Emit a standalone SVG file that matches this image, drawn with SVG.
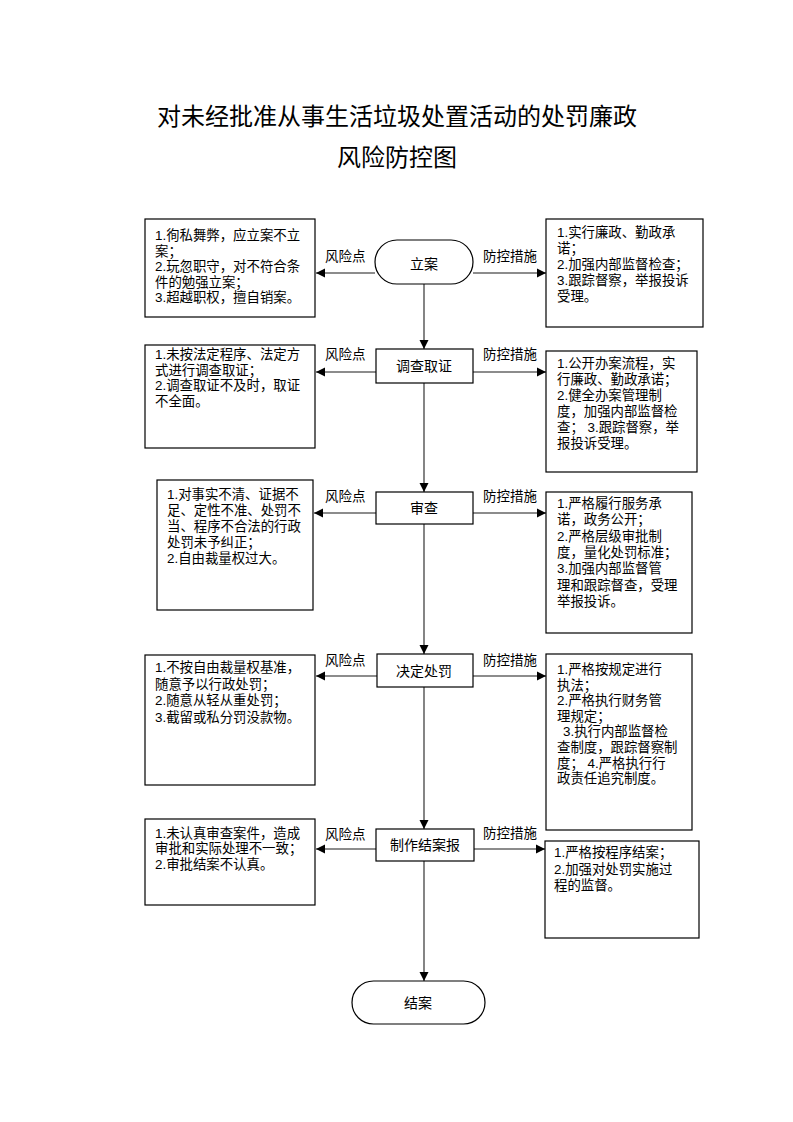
<svg xmlns="http://www.w3.org/2000/svg" width="793" height="1122" viewBox="0 0 793 1122">
<style>
text{font-family:"Liberation Sans","Noto Sans CJK SC",sans-serif;fill:#000}
.title{font-size:24px;text-anchor:middle}
.box{fill:#fff;stroke:#000;stroke-width:1.2}
.node{fill:#fff;stroke:#000;stroke-width:1.2}
.nt{font-size:14px;text-anchor:middle}
.lbl{font-size:13.5px}
.bt{font-size:13.4px}
.conn{stroke:#666;stroke-width:1.6;fill:none;marker-end:url(#arr)}
</style>
<defs>
<marker id="arr" markerUnits="userSpaceOnUse" markerWidth="10" markerHeight="10" viewBox="0 0 10 10" refX="9" refY="5" orient="auto">
<path d="M0,0.5 L9,5 L0,9.5 Z" fill="#000"/>
</marker>
</defs>
<rect width="793" height="1122" fill="#fff"/>
<g id="title">
<text class="title" x="397" y="125">对未经批准从事生活垃圾处置活动的处罚廉政</text>
<text class="title" x="397" y="166">风险防控图</text>
</g>
<g id="connectors">
<line class="conn" x1="424" y1="284" x2="424" y2="349"/>
<line class="conn" x1="424" y1="383" x2="424" y2="492"/>
<line class="conn" x1="424" y1="524" x2="424" y2="654"/>
<line class="conn" x1="424" y1="687" x2="424" y2="829"/>
<line class="conn" x1="424" y1="861" x2="424" y2="981"/>
<line class="conn" x1="375" y1="273" x2="316" y2="273"/>
<line class="conn" x1="473" y1="273" x2="546" y2="273"/>
<line class="conn" x1="376" y1="372" x2="316" y2="372"/>
<line class="conn" x1="473" y1="372" x2="546" y2="372"/>
<line class="conn" x1="376" y1="513" x2="314" y2="513"/>
<line class="conn" x1="473" y1="513" x2="546" y2="513"/>
<line class="conn" x1="377" y1="676" x2="316" y2="676"/>
<line class="conn" x1="473" y1="676" x2="546" y2="676"/>
<line class="conn" x1="376" y1="849" x2="316" y2="849"/>
<line class="conn" x1="474" y1="849" x2="545" y2="849"/>
<text class="lbl" x="325" y="261">风险点</text>
<text class="lbl" x="483" y="261">防控措施</text>
<text class="lbl" x="325" y="359">风险点</text>
<text class="lbl" x="483" y="359">防控措施</text>
<text class="lbl" x="325" y="501">风险点</text>
<text class="lbl" x="483" y="501">防控措施</text>
<text class="lbl" x="325" y="665">风险点</text>
<text class="lbl" x="483" y="665">防控措施</text>
<text class="lbl" x="325" y="839">风险点</text>
<text class="lbl" x="483" y="838">防控措施</text>
</g>
<g id="n1">
<rect class="node" x="375" y="240" width="98" height="44" rx="22"/>
<text class="nt" x="424" y="269">立案</text>
</g>
<g id="n2">
<rect class="node" x="376" y="349" width="97" height="34"/>
<text class="nt" x="424" y="371">调查取证</text>
</g>
<g id="n3">
<rect class="node" x="376" y="492" width="97" height="32"/>
<text class="nt" x="424" y="513">审查</text>
</g>
<g id="n4">
<rect class="node" x="377" y="654" width="96" height="33"/>
<text class="nt" x="424" y="676">决定处罚</text>
</g>
<g id="n5">
<rect class="node" x="376" y="829" width="98" height="32"/>
<text class="nt" x="425" y="850">制作结案报</text>
</g>
<g id="n6">
<rect class="node" x="352" y="981" width="133" height="43" rx="21.5"/>
<text class="nt" x="418" y="1008">结案</text>
</g>
<g id="risk1">
<rect class="box" x="145" y="219" width="170" height="98"/>
<text class="bt" x="155" y="240">1.徇私舞弊，应立案不立</text>
<text class="bt" x="155" y="255.5">案；</text>
<text class="bt" x="155" y="271">2.玩忽职守，对不符合条</text>
<text class="bt" x="155" y="286.5">件的勉强立案；</text>
<text class="bt" x="155" y="302">3.超越职权，擅自销案。</text>
</g>
<g id="ctrl1">
<rect class="box" x="546" y="219" width="157" height="108"/>
<text class="bt" x="557" y="237">1.实行廉政、勤政承</text>
<text class="bt" x="557" y="253">诺；</text>
<text class="bt" x="557" y="269">2.加强内部监督检查；</text>
<text class="bt" x="557" y="285">3.跟踪督察，举报投诉</text>
<text class="bt" x="557" y="301">受理。</text>
</g>
<g id="risk2">
<rect class="box" x="145" y="345" width="170" height="103"/>
<text class="bt" x="155" y="359">1.未按法定程序、法定方</text>
<text class="bt" x="155" y="374.5">式进行调查取证；</text>
<text class="bt" x="155" y="390">2.调查取证不及时，取证</text>
<text class="bt" x="155" y="405.5">不全面。</text>
</g>
<g id="ctrl2">
<rect class="box" x="546" y="351" width="151" height="121"/>
<text class="bt" x="557" y="368">1.公开办案流程，实</text>
<text class="bt" x="557" y="384">行廉政、勤政承诺；</text>
<text class="bt" x="557" y="400">2.健全办案管理制</text>
<text class="bt" x="557" y="416">度，加强内部监督检</text>
<text class="bt" x="557" y="432">查； 3.跟踪督察，举</text>
<text class="bt" x="557" y="448">报投诉受理。</text>
</g>
<g id="risk3">
<rect class="box" x="157" y="480" width="156" height="130"/>
<text class="bt" x="167" y="499">1.对事实不清、证据不</text>
<text class="bt" x="167" y="515">足、定性不准、处罚不</text>
<text class="bt" x="167" y="531">当、程序不合法的行政</text>
<text class="bt" x="167" y="547">处罚未予纠正；</text>
<text class="bt" x="167" y="563">2.自由裁量权过大。</text>
</g>
<g id="ctrl3">
<rect class="box" x="546" y="492" width="146" height="141"/>
<text class="bt" x="557" y="508">1.严格履行服务承</text>
<text class="bt" x="557" y="524.3">诺，政务公开；</text>
<text class="bt" x="557" y="540.6">2.严格层级审批制</text>
<text class="bt" x="557" y="557">度，量化处罚标准；</text>
<text class="bt" x="557" y="573.3">3.加强内部监督管</text>
<text class="bt" x="557" y="589.6">理和跟踪督查，受理</text>
<text class="bt" x="557" y="606">举报投诉。</text>
</g>
<g id="risk4">
<rect class="box" x="145" y="655" width="170" height="130"/>
<text class="bt" x="155" y="672">1.不按自由裁量权基准，</text>
<text class="bt" x="155" y="688.5">随意予以行政处罚；</text>
<text class="bt" x="155" y="705">2.随意从轻从重处罚；</text>
<text class="bt" x="155" y="721.5">3.截留或私分罚没款物。</text>
</g>
<g id="ctrl4">
<rect class="box" x="546" y="654" width="146" height="176"/>
<text class="bt" x="557" y="674">1.严格按规定进行</text>
<text class="bt" x="557" y="689.6">执法；</text>
<text class="bt" x="557" y="705.2">2.严格执行财务管</text>
<text class="bt" x="557" y="720.8">理规定；</text>
<text class="bt" x="563" y="736.4">3.执行内部监督检</text>
<text class="bt" x="557" y="752">查制度，跟踪督察制</text>
<text class="bt" x="557" y="767.6">度； 4.严格执行行</text>
<text class="bt" x="557" y="783.2">政责任追究制度。</text>
</g>
<g id="risk5">
<rect class="box" x="145" y="819" width="170" height="86"/>
<text class="bt" x="155" y="837.5">1.未认真审查案件，造成</text>
<text class="bt" x="155" y="853.2">审批和实际处理不一致；</text>
<text class="bt" x="155" y="869">2.审批结案不认真。</text>
</g>
<g id="ctrl5">
<rect class="box" x="545" y="841" width="154" height="97"/>
<text class="bt" x="554" y="857">1.严格按程序结案；</text>
<text class="bt" x="554" y="873.5">2.加强对处罚实施过</text>
<text class="bt" x="554" y="890">程的监督。</text>
</g>
</svg>
